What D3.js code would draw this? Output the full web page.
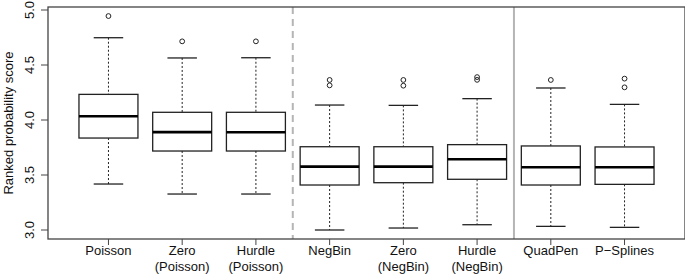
<!DOCTYPE html>
<html lang="en">
<head>
<meta charset="UTF-8">
<title>Ranked probability score</title>
<script src="https://d3js.org/d3.v7.min.js"></script>
<style>
    body { margin: 0; background: #fff; }
    text { font-family: "Liberation Sans", Arial, sans-serif; font-size: 13px; fill: #111; }
</style>
</head>
<body>
<div id="chart"></div>
<script>
    // categories (two-line labels)
    const labels = [["Poisson"], ["Zero", "(Poisson)"], ["Hurdle", "(Poisson)"], ["NegBin"],
                    ["Zero", "(NegBin)"], ["Hurdle", "(NegBin)"], ["QuadPen"], ["P\u2212Splines"]];
    // five-number summaries
    const lowWhisker = [3.418, 3.327, 3.327, 3.000, 3.018, 3.048, 3.033, 3.024];
    const q1         = [3.836, 3.718, 3.718, 3.409, 3.430, 3.461, 3.409, 3.415];
    const medians    = [4.034, 3.890, 3.888, 3.576, 3.576, 3.643, 3.570, 3.570];
    const q3         = [4.233, 4.070, 4.070, 3.757, 3.757, 3.776, 3.764, 3.755];
    const highWhisker= [4.748, 4.564, 4.566, 4.136, 4.133, 4.194, 4.291, 4.142];
    const outliers   = [[4.945], [4.715], [4.715], [4.364, 4.315], [4.364, 4.312],
                        [4.390, 4.365], [4.364], [4.376, 4.297]];
    const yTicks = [3.0, 3.5, 4.0, 4.5, 5.0];
    const separators = [{pos: 3.5, dashed: true}, {pos: 6.5, dashed: false}];

    const W = 685, H = 276;
    const mLeft = 48, mRight = 685, mTop = 7, mBottom = 239;

    const svg = d3.select("#chart").append("svg")
        .attr("width", W).attr("height", H);

    const x = d3.scaleLinear().domain([0.18, 8.82]).range([mLeft, mRight]);
    const y = d3.scaleLinear().domain([3, 5]).range([230, 10]);

    const data = labels.map((l, i) => ({
        pos: i + 1, label: l, lo: lowWhisker[i], q1: q1[i], med: medians[i],
        q3: q3[i], hi: highWhisker[i], out: outliers[i]
    }));

    // separator lines
    svg.selectAll(".sep").data(separators).enter().append("line")
        .attr("x1", d => x(d.pos)).attr("x2", d => x(d.pos))
        .attr("y1", mTop).attr("y2", mBottom)
        .attr("stroke", "#b5b5b5").attr("stroke-width", 2)
        .attr("stroke-dasharray", d => d.dashed ? "7,5" : null);

    const g = svg.selectAll(".box").data(data).enter().append("g");
    const bw = x(1.4) - x(1), cw = x(1.2) - x(1);

    // whiskers
    g.append("line")
        .attr("x1", d => x(d.pos)).attr("x2", d => x(d.pos))
        .attr("y1", d => y(d.hi)).attr("y2", d => y(d.q3))
        .attr("stroke", "#222").attr("stroke-dasharray", "2,2");
    g.append("line")
        .attr("x1", d => x(d.pos)).attr("x2", d => x(d.pos))
        .attr("y1", d => y(d.q1)).attr("y2", d => y(d.lo))
        .attr("stroke", "#222").attr("stroke-dasharray", "2,2");
    g.append("line")
        .attr("x1", d => x(d.pos) - cw).attr("x2", d => x(d.pos) + cw)
        .attr("y1", d => y(d.hi)).attr("y2", d => y(d.hi))
        .attr("stroke", "#222").attr("stroke-width", 1.3);
    g.append("line")
        .attr("x1", d => x(d.pos) - cw).attr("x2", d => x(d.pos) + cw)
        .attr("y1", d => y(d.lo)).attr("y2", d => y(d.lo))
        .attr("stroke", "#222").attr("stroke-width", 1.3);

    // boxes
    g.append("rect")
        .attr("x", d => x(d.pos) - bw).attr("width", 2 * bw)
        .attr("y", d => y(d.q3)).attr("height", d => y(d.q1) - y(d.q3))
        .attr("fill", "#fff").attr("stroke", "#222").attr("stroke-width", 1.3);
    g.append("line")
        .attr("x1", d => x(d.pos) - bw).attr("x2", d => x(d.pos) + bw)
        .attr("y1", d => y(d.med)).attr("y2", d => y(d.med))
        .attr("stroke", "#000").attr("stroke-width", 2.6);

    // outliers
    g.selectAll("circle").data(d => d.out.map(v => ({pos: d.pos, v}))).enter().append("circle")
        .attr("cx", d => x(d.pos)).attr("cy", d => y(d.v)).attr("r", 2.4)
        .attr("fill", "none").attr("stroke", "#222").attr("stroke-width", 1);

    // frame
    svg.append("rect")
        .attr("x", mLeft).attr("y", mTop).attr("width", mRight - mLeft).attr("height", mBottom - mTop)
        .attr("fill", "none").attr("stroke", "#444").attr("stroke-width", 1.3);

    // y axis
    const ya = svg.append("g");
    ya.selectAll("line").data(yTicks).enter().append("line")
        .attr("x1", mLeft - 7).attr("x2", mLeft)
        .attr("y1", d => y(d)).attr("y2", d => y(d))
        .attr("stroke", "#444");
    ya.selectAll("text").data(yTicks).enter().append("text")
        .attr("transform", d => `translate(34,${y(d)}) rotate(-90)`)
        .attr("text-anchor", "middle")
        .text(d => d.toFixed(1));
    svg.append("text")
        .attr("transform", `translate(13,${(mTop + mBottom) / 2}) rotate(-90)`)
        .attr("text-anchor", "middle")
        .text("Ranked probability score");

    // x axis
    const xa = svg.append("g");
    xa.selectAll("line").data(data).enter().append("line")
        .attr("x1", d => x(d.pos)).attr("x2", d => x(d.pos))
        .attr("y1", mBottom).attr("y2", mBottom + 6)
        .attr("stroke", "#444");
    const xt = xa.selectAll("text").data(data).enter().append("text")
        .attr("x", d => x(d.pos)).attr("y", 255)
        .attr("text-anchor", "middle");
    xt.selectAll("tspan").data(d => d.label.map(s => ({s, x: x(d.pos)}))).enter().append("tspan")
        .attr("x", d => d.x).attr("dy", (d, i) => i === 0 ? 0 : 16)
        .text(d => d.s);
</script>
</body>
</html>
